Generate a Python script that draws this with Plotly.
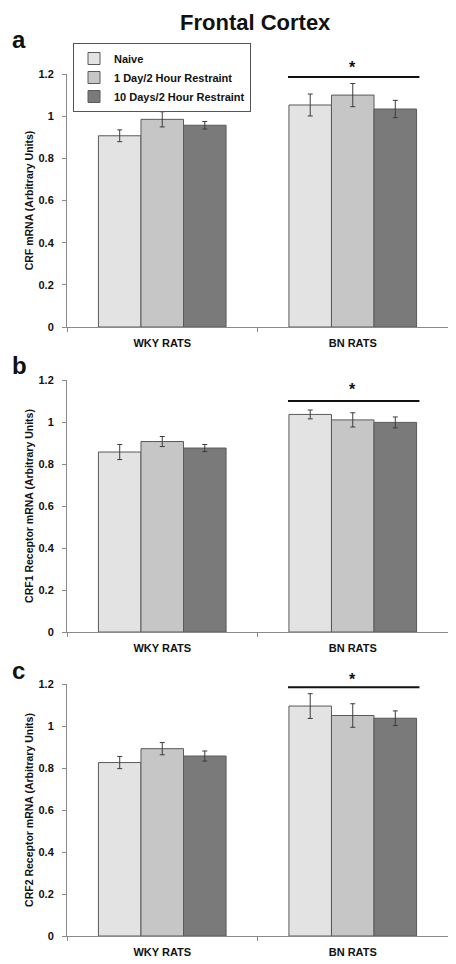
import plotly.graph_objects as go

# ---------------- data ----------------
groups = ["WKY RATS", "BN RATS"]
series = ["Naive", "1 Day/2 Hour Restraint", "10 Days/2 Hour Restraint"]
colors = ["#e3e3e3", "#c6c6c6", "#7a7a7a"]

panel_letters = ["a", "b", "c"]
y_titles = [
    "CRF mRNA (Arbitrary Units)",
    "CRF1 Receptor mRNA (Arbitrary Units)",
    "CRF2 Receptor mRNA (Arbitrary Units)",
]

# Panel a: CRF mRNA
a_naive = [0.907, 1.053]
a_1day = [0.985, 1.100]
a_10day = [0.957, 1.034]
a_naive_err = [0.028, 0.052]
a_1day_err = [0.036, 0.055]
a_10day_err = [0.018, 0.041]

# Panel b: CRF1 receptor mRNA
b_naive = [0.857, 1.036]
b_1day = [0.907, 1.010]
b_10day = [0.876, 0.998]
b_naive_err = [0.036, 0.021]
b_1day_err = [0.024, 0.034]
b_10day_err = [0.017, 0.026]

# Panel c: CRF2 receptor mRNA
c_naive = [0.826, 1.095]
c_1day = [0.892, 1.050]
c_10day = [0.857, 1.037]
c_naive_err = [0.029, 0.059]
c_1day_err = [0.029, 0.056]
c_10day_err = [0.024, 0.035]

# significance bar (BN rats) level per panel
sig_y = [1.186, 1.100, 1.184]

y_ticks = [0, 0.2, 0.4, 0.6, 0.8, 1.0, 1.2]
y_tick_text = ["0", "0.2", "0.4", "0.6", "0.8", "1", "1.2"]

panels = [
    ([a_naive, a_1day, a_10day], [a_naive_err, a_1day_err, a_10day_err]),
    ([b_naive, b_1day, b_10day], [b_naive_err, b_1day_err, b_10day_err]),
    ([c_naive, c_1day, c_10day], [c_naive_err, c_1day_err, c_10day_err]),
]

# ---------------- layout geometry (figure pixels; page adds 8px body margin) ----------------
W, H = 448, 956
ML, MR = 59, 8
px_top = [66, 372, 676]
px_bot = [319, 624, 928]
star_px = [59, 382, 671]
letter_px = [32, 357, 662]

FONT = "Liberation Sans, Arial, sans-serif"
AXIS_COL = "#8a8a8a"
PW = W - ML - MR

fig = go.Figure()

for p, (vals, errs) in enumerate(panels):
    xa = "x" if p == 0 else f"x{p+1}"
    ya = "y" if p == 0 else f"y{p+1}"
    for s in range(3):
        fig.add_trace(go.Bar(
            x=groups, y=vals[s], name=series[s],
            xaxis=xa, yaxis=ya,
            marker=dict(color=colors[s], line=dict(color="#5a5a5a", width=1)),
            error_y=dict(type="data", array=errs[s], visible=True,
                         color="#3c3c3c", thickness=1, width=2.5),
            legendgroup=series[s], showlegend=(p == 0),
        ))

layout = dict(
    width=W, height=H,
    margin=dict(l=ML, r=MR, t=0, b=0, autoexpand=False),
    paper_bgcolor="white", plot_bgcolor="white",
    barmode="group", bargap=0.33, bargroupgap=0,
    font=dict(family=FONT, color="#111111"),
    showlegend=True,
    legend=dict(
        x=6 / PW, y=1 - 35 / H, xanchor="left", yanchor="top",
        bgcolor="white", bordercolor="#555555", borderwidth=1,
        font=dict(size=11, family=FONT, color="#111111", weight="bold"),
        itemwidth=30, tracegroupgap=0,
    ),
)

shapes = []
annotations = []
for p in range(3):
    xk = "xaxis" if p == 0 else f"xaxis{p+1}"
    yk = "yaxis" if p == 0 else f"yaxis{p+1}"
    xa = "x" if p == 0 else f"x{p+1}"
    ya = "y" if p == 0 else f"y{p+1}"
    dom = [1 - px_bot[p] / H, 1 - px_top[p] / H]
    layout[xk] = dict(
        domain=[0, 1], anchor=ya, type="category",
        showline=True, linecolor=AXIS_COL, linewidth=1,
        ticks="outside", tickson="boundaries", ticklen=4, tickcolor=AXIS_COL,
        tickfont=dict(size=11, family=FONT, color="#111111", weight="bold"),
        ticklabelstandoff=6, showgrid=False, zeroline=False, fixedrange=True,
    )
    layout[yk] = dict(
        domain=dom, anchor=xa, range=[0, 1.2],
        tickvals=y_ticks, ticktext=y_tick_text,
        showline=True, linecolor=AXIS_COL, linewidth=1,
        ticks="outside", ticklen=4, tickcolor=AXIS_COL,
        tickfont=dict(size=11, family=FONT, color="#111111", weight="bold"),
        ticklabelstandoff=6, showgrid=False, zeroline=False,
        title=dict(text=y_titles[p], standoff=2,
                   font=dict(size=10.5, family=FONT, color="#111111", weight="bold")),
    )
    # significance line over BN rats
    shapes.append(dict(type="line", xref=xa, yref=ya,
                       x0=0.66, x1=1.35, y0=sig_y[p], y1=sig_y[p],
                       line=dict(color="#111111", width=2)))
    annotations.append(dict(xref="paper", yref="paper", x=0.75, y=1 - star_px[p] / H,
                            text="*", showarrow=False, xanchor="center", yanchor="middle",
                            font=dict(size=16, family=FONT, color="#111111", weight="bold")))
    # panel letter
    annotations.append(dict(xref="paper", yref="paper", x=(2 - ML) / PW,
                            y=1 - letter_px[p] / H, xanchor="left", yanchor="middle",
                            text=panel_letters[p], showarrow=False,
                            font=dict(size=24, family=FONT, color="#111111", weight="bold")))

annotations.append(dict(xref="paper", yref="paper", x=(247 - ML) / PW,
                        y=1.0, xanchor="center", yanchor="top",
                        text="Frontal Cortex", showarrow=False,
                        font=dict(size=22, family=FONT, color="#111111", weight="bold")))

layout["shapes"] = shapes
layout["annotations"] = annotations
fig.update_layout(**layout)

fig.write_html("out.html")
